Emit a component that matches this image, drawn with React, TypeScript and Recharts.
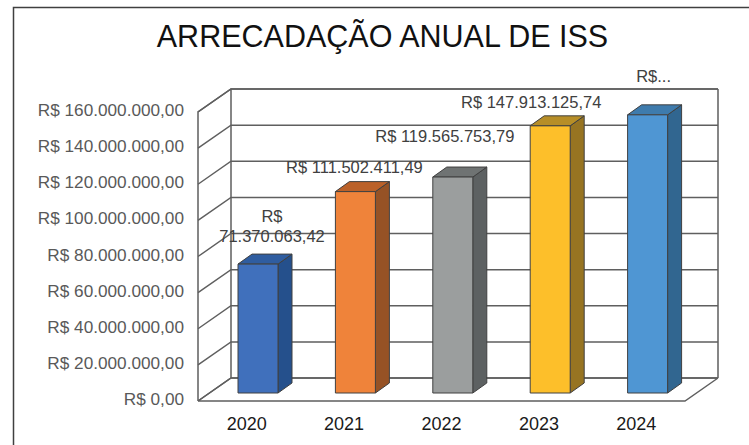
import React from 'react';
import { BarChart, Bar, XAxis, YAxis, CartesianGrid, ReferenceArea, LabelList } from 'recharts';

// ---- data ----
const years = ['2020', '2021', '2022', '2023', '2024'];
const revenue = [71370063.42, 111502411.49, 119565753.79, 147913125.74, 154000000];
const valueLabelLines = [
  ['R$', '71.370.063,42'],
  ['R$ 111.502.411,49'],
  ['R$ 119.565.753,79'],
  ['R$ 147.913.125,74'],
  ['R$...'],
];
const yTicks = [0, 20000000, 40000000, 60000000, 80000000, 100000000, 120000000, 140000000, 160000000];
const yTickLabels = [
  'R$ 0,00',
  'R$ 20.000.000,00',
  'R$ 40.000.000,00',
  'R$ 60.000.000,00',
  'R$ 80.000.000,00',
  'R$ 100.000.000,00',
  'R$ 120.000.000,00',
  'R$ 140.000.000,00',
  'R$ 160.000.000,00',
];
const title = 'ARRECADAÇÃO ANUAL DE ISS';

// ---- styles ----
const W = 749;
const H = 445;
const FONT = '"Liberation Sans", Arial, sans-serif';
const frontColors = ['#4070BC', '#EF833A', '#9B9E9E', '#FDBF2A', '#4F96D3'];
const sideColors = ['#25508C', '#965225', '#5D6162', '#977422', '#316690'];
const topColors = ['#2F5DA0', '#BB6129', '#6F7373', '#B78E27', '#3E7BAD'];
const GRID = '#5f5f5f';
// oblique projection offsets (relative to the bar plane)
const FRONT = { dx: -11, dy: 8 };
const BACK = { dx: 22, dy: -15 };
const BAR_D = { dx: 14, dy: -10 };
// small per-label placement nudges (label layout as in the original)
const labelNudgeX = [7, -8, -15, -26, -1];
const labelNudgeY = [-3, 0, -16, 1, -14];

const data = years.map((year, i) => ({ year, value: revenue[i] }));

const GridLine = (p: any) => {
  const { x1, x2, y1 } = p;
  return (
    <path
      d={`M${x1 + FRONT.dx},${y1 + FRONT.dy} L${x1 + BACK.dx},${y1 + BACK.dy} L${x2 + BACK.dx},${y1 + BACK.dy}`}
      stroke={GRID}
      strokeWidth={1.5}
      fill="none"
    />
  );
};

const Frame = (p: any) => {
  const { x, y, width, height } = p;
  const L = x, R = x + width, T = y, B = y + height;
  const d = [
    `M${L + FRONT.dx},${B + FRONT.dy} L${R + FRONT.dx},${B + FRONT.dy} L${R + BACK.dx},${B + BACK.dy}`,
    `M${L + FRONT.dx},${B + FRONT.dy} L${L + BACK.dx},${B + BACK.dy} L${R + BACK.dx},${B + BACK.dy}`,
    `M${L + FRONT.dx},${B + FRONT.dy} L${L + FRONT.dx},${T + FRONT.dy} L${L + BACK.dx},${T + BACK.dy} L${R + BACK.dx},${T + BACK.dy}`,
    `M${L + BACK.dx},${B + BACK.dy} L${L + BACK.dx},${T + BACK.dy}`,
    `M${R + BACK.dx},${B + BACK.dy} L${R + BACK.dx},${T + BACK.dy}`,
  ].join(' ');
  return <path d={d} stroke={GRID} strokeWidth={1.5} fill="none" />;
};

const Bar3D = (p: any) => {
  const { x, y, width, height, index } = p;
  const i = index ?? 0;
  const r = x + width;
  const b = y + height;
  return (
    <g stroke="#404040" strokeWidth={1} strokeLinejoin="round">
      <path
        d={`M${r},${y} L${r + BAR_D.dx},${y + BAR_D.dy} L${r + BAR_D.dx},${b + BAR_D.dy} L${r},${b} Z`}
        fill={sideColors[i]}
      />
      <path
        d={`M${x},${y} L${x + BAR_D.dx},${y + BAR_D.dy} L${r + BAR_D.dx},${y + BAR_D.dy} L${r},${y} Z`}
        fill={topColors[i]}
      />
      <rect x={x} y={y} width={width} height={height} fill={frontColors[i]} />
    </g>
  );
};

const ValueLabel = (p: any) => {
  const { x, y, width, value } = p;
  let i = p.index;
  if (i === undefined || i === null) i = revenue.indexOf(value);
  const lines = valueLabelLines[i] || [];
  const cx = x + width / 2 + BAR_D.dx / 2 + (labelNudgeX[i] || 0);
  const base = y - 19 + (labelNudgeY[i] || 0);
  return (
    <text textAnchor="middle" fontFamily={FONT} fontSize={16.5} fill="#404040">
      {lines.map((ln, k) => (
        <tspan key={k} x={cx} y={base - (lines.length - 1 - k) * 20}>
          {ln}
        </tspan>
      ))}
    </text>
  );
};

const YTick = (p: any) => {
  const { x, y, payload } = p;
  const idx = yTicks.indexOf(payload.value);
  return (
    <text x={x - 25} y={y + 12} textAnchor="end" fontFamily={FONT} fontSize={17.2} fill="#595959">
      {yTickLabels[idx]}
    </text>
  );
};

const XTick = (p: any) => {
  const { x, y, payload } = p;
  return (
    <text x={x + FRONT.dx} y={y + 37} textAnchor="middle" fontFamily={FONT} fontSize={18} fill="#1a1a1a">
      {payload.value}
    </text>
  );
};

export default function App() {
  return (
    <div style={{ position: 'absolute', left: 0, top: 0, width: W, height: H, overflow: 'hidden', background: '#fff' }}>
      <BarChart
        width={W}
        height={H}
        data={data}
        margin={{ top: 104, right: 53, bottom: 22, left: 149 }}
      >
        <CartesianGrid vertical={false} horizontal={GridLine as any} stroke={GRID} />
        <ReferenceArea y1={0} y2={160000000} shape={Frame as any} zIndex={-60} ifOverflow="visible" />
        <XAxis
          dataKey="year"
          height={30}
          axisLine={false}
          tickLine={false}
          tickSize={0}
          tickMargin={0}
          tick={XTick as any}
          interval={0}
        />
        <YAxis
          width={60}
          domain={[0, 160000000]}
          ticks={yTicks}
          axisLine={false}
          tickLine={false}
          tickSize={0}
          tickMargin={0}
          tick={YTick as any}
          interval={0}
        />
        <Bar dataKey="value" barSize={40} isAnimationActive={false} shape={Bar3D as any}>
          <LabelList dataKey="value" content={ValueLabel as any} />
        </Bar>
      </BarChart>
      <svg
        width={W}
        height={H}
        style={{ position: 'absolute', left: 0, top: 0, pointerEvents: 'none' }}
      >
        <path d={`M13.5,${H} L13.5,7.5 L${W},7.5`} stroke="#404040" strokeWidth={1.5} fill="none" />
        <text x={382.5} y={47} textAnchor="middle" fontFamily={FONT} fontSize={30.5} fill="#111">
          {title}
        </text>
      </svg>
    </div>
  );
}
